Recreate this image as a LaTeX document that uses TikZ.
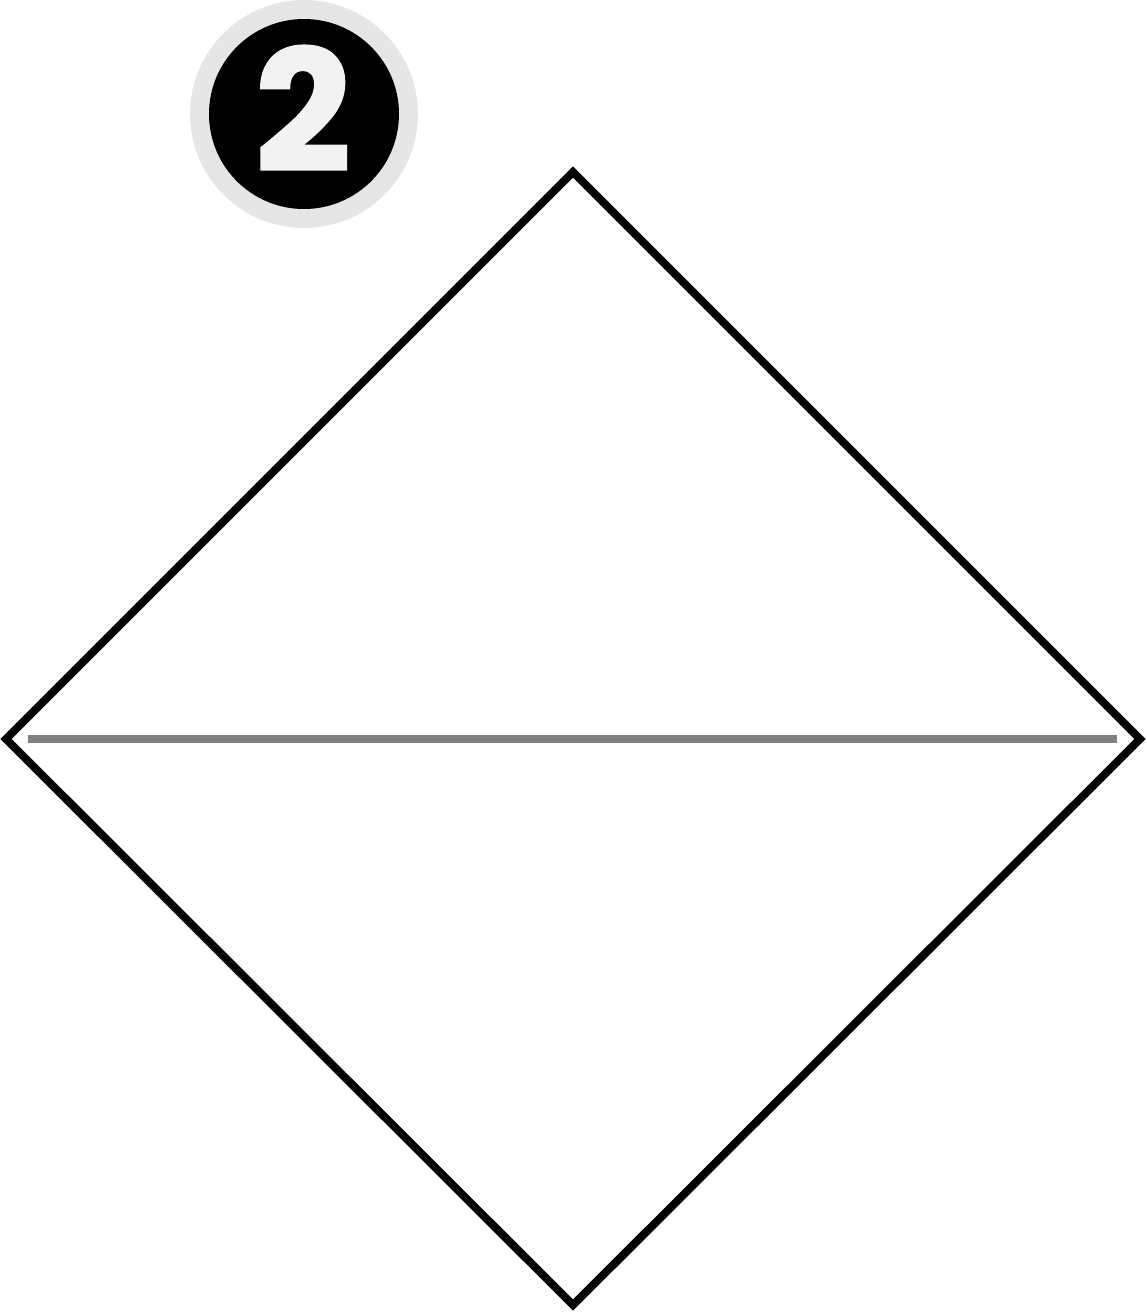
\documentclass[tikz,border=0pt]{standalone}
\usepackage{fontspec}
\newfontfamily\badgefont{Poppins}[UprightFont=*-Bold,UprightFeatures={FakeBold=1.5}]
\definecolor{ringgray}{HTML}{E6E6E6}
\definecolor{digitgray}{HTML}{F2F2F2}
\definecolor{midline}{HTML}{808080}
\begin{document}
\begin{tikzpicture}[x=1pt,y=-1pt,
  outline/.style={draw=black,line width=8pt,miter limit=10},
  divider/.style={draw=midline,line width=8pt}]
\useasboundingbox (0,0) rectangle (1146,1312);
\coordinate (T) at (573,172);
\coordinate (R) at (1140,739);
\coordinate (B) at (573,1305);
\coordinate (L) at (6,739);
\draw[outline] (T) -- (R) -- (B) -- (L) -- cycle;
\coordinate (gl) at (28,739);
\coordinate (gr) at (1117,739);
\draw[divider] (gl) -- (gr);
\fill[ringgray] (304,114) circle (114);
\fill[black] (304,114) circle (95);
\node[text=digitgray,inner sep=0pt,anchor=base] (num) at (303,171) {\badgefont\fontsize{168}{168}\selectfont 2};
\end{tikzpicture}
\end{document}
